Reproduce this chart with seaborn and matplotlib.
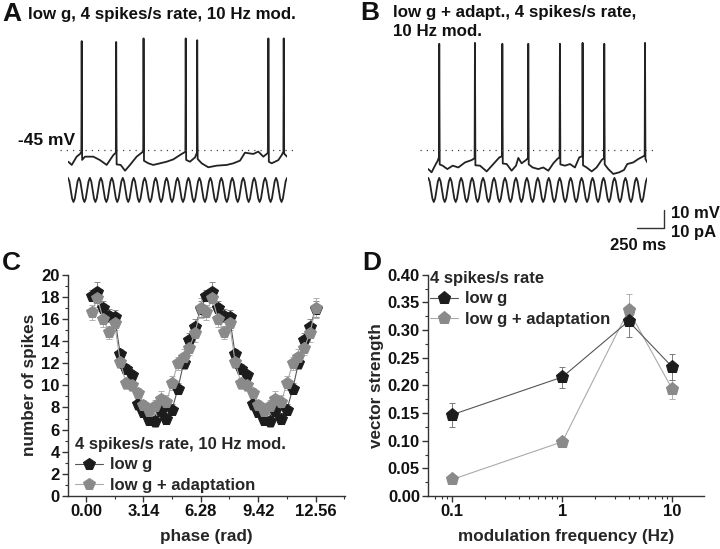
import numpy as np
import matplotlib
matplotlib.use("Agg")
import matplotlib.pyplot as plt
import seaborn as sns

sns.set_style("ticks")
plt.rcParams["font.family"] = ["Liberation Sans", "DejaVu Sans"]
plt.rcParams["font.weight"] = "bold"
plt.rcParams["axes.labelweight"] = "bold"

# --- A : membrane potential, low g (time in s, mV)
a_base_t = [0.003, 0.034, 0.079, 0.110, 0.155, 0.231, 0.292, 0.353, 0.414, 0.481,
            0.521, 0.566, 0.627, 0.673, 0.734, 0.779, 0.840, 0.901, 0.962, 1.038,
            1.114, 1.160, 1.221, 1.281, 1.358, 1.449, 1.510, 1.571, 1.616, 1.692,
            1.738, 1.784, 1.814, 1.860, 1.921, 1.952, 2.000]
a_base_v = [-51.5, -53.3, -48.7, -47.2, -48.7, -48.7, -50.6, -53.3, -47.8, -53.3,
            -56.5, -53.3, -48.7, -46.5, -52.4, -53.3, -52.4, -51.5, -50.2, -47.2,
            -51.5, -49.1, -52.4, -54.6, -53.7, -53.3, -52.4, -50.9, -46.5, -47.2,
            -45.9, -48.7, -47.2, -52.4, -50.6, -47.8, -48.7]
a_spk_t = [0.125, 0.440, 0.690, 1.075, 1.180, 1.830, 1.970]
a_spk_peak = [15.5, 15.0, 17.0, 17.0, 16.0, 17.0, 17.0]
a_spk_foot = [-46.0, -46.5, -45.8, -46.0, -46.5, -46.5, -46.0]
a_spk_dip = [-50.5, -53.0, -51.0, -50.5, -50.0, -51.5, -47.0]

# --- B : membrane potential, low g + adaptation
b_base_t = [0.000, 0.030, 0.061, 0.086, 0.131, 0.174, 0.223, 0.274, 0.335, 0.396,
            0.472, 0.533, 0.594, 0.649, 0.716, 0.761, 0.801, 0.822, 0.852, 0.892,
            0.953, 1.004, 1.050, 1.096, 1.142, 1.178, 1.248, 1.294, 1.339, 1.379,
            1.446, 1.492, 1.537, 1.583, 1.644, 1.689, 1.744, 1.787, 1.817, 1.872,
            1.918, 1.958, 2.000]
b_base_v = [-55.6, -57.4, -53.7, -50.9, -53.7, -55.6, -53.7, -54.7, -51.9, -50.6,
            -53.7, -56.9, -52.8, -49.1, -52.8, -56.5, -53.7, -49.4, -52.4, -50.6,
            -54.7, -55.6, -54.7, -56.5, -52.4, -50.0, -53.7, -52.8, -54.7, -49.1,
            -54.7, -56.9, -54.7, -50.6, -55.6, -58.3, -57.4, -56.1, -52.8, -51.9,
            -50.0, -48.7, -51.9]
b_spk_t = [0.100, 0.426, 0.676, 0.913, 1.202, 1.409, 1.607, 1.979]
b_spk_peak = [14.0, 14.5, 14.0, 14.0, 14.0, 14.5, 14.0, 14.5]
b_spk_foot = [-49.0, -49.5, -48.5, -49.5, -49.0, -48.5, -49.5, -48.0]
b_spk_dip = [-53.0, -53.5, -52.5, -53.0, -53.0, -53.5, -53.0, -50.0]

# --- stimulus : 10 Hz sinusoidal current, one cycle sampled (starts at peak)
stim_cycle = [1.0, 0.71, 0.0, -0.71, -1.0, -0.71, 0.0, 0.71]
stim_cycles = 20
stim_amp = 6.7      # pA
stim_offset = -67.2

# --- C : phase histogram (one period, repeated twice)
phase = [0.31, 0.63, 0.94, 1.26, 1.57, 1.88, 2.20, 2.51, 2.83, 3.14,
         3.46, 3.77, 4.08, 4.40, 4.71, 5.03, 5.34, 5.65, 5.97, 6.28]
spk_low_g = [18.1, 18.4, 17.0, 16.3, 16.2, 12.8, 11.5, 10.9, 8.3, 7.6,
             6.9, 6.8, 7.7, 7.0, 7.8, 9.7, 12.0, 14.1, 15.3, 16.9]
spk_low_g_err = [0.5, 0.9, 0.6, 0.6, 0.6, 0.5, 0.4, 0.4, 0.5, 0.5,
                 0.5, 0.6, 0.5, 0.5, 0.5, 0.5, 0.5, 0.6, 0.7, 0.7]
spk_adapt = [16.6, 17.9, 16.0, 14.8, 15.6, 12.1, 10.2, 10.0, 9.3, 8.2,
             7.7, 8.1, 8.8, 8.5, 10.2, 12.0, 12.6, 13.4, 14.7, 17.0]
spk_adapt_err = [0.7, 0.8, 0.7, 0.6, 0.6, 0.5, 0.5, 0.5, 0.5, 0.5,
                 0.5, 0.6, 0.7, 0.6, 0.6, 0.6, 0.7, 0.7, 0.8, 0.9]

# --- D : vector strength vs modulation frequency
freq = [0.1, 1, 4, 10]
vs_low_g = [0.147, 0.215, 0.316, 0.233]
vs_low_g_err = [0.022, 0.019, 0.028, 0.023]
vs_adapt = [0.030, 0.098, 0.336, 0.193]
vs_adapt_err = [0.004, 0.004, 0.029, 0.017]

DARK = "#1c1c1c"
GREY = "#8a8a8a"
TXT = "#111111"


def build_trace(bt, bv, st, sp, sf, sd):
    t = list(bt)
    v = list(bv)
    for ti, pk, ft, dp in zip(st, sp, sf, sd):
        t += [ti - 0.003, ti, ti + 0.004]
        v += [ft, pk, dp]
    order = np.argsort(t)
    return np.array(t)[order], np.array(v)[order]


fig = plt.figure(figsize=(7.2, 5.49), dpi=100)
W, H = 720, 549
axA = fig.add_axes([68 / W, (H - 205.8) / H, 219 / W, 172.8 / H])
axB = fig.add_axes([428.3 / W, (H - 205.8) / H, 219 / W, 172.8 / H])
axC = fig.add_axes([68 / W, 53 / H, 277 / W, 221.3 / H])
axD = fig.add_axes([428.3 / W, 53 / H, 275.7 / W, 221.3 / H])

stim_y = stim_offset + stim_amp * np.array(stim_cycle * stim_cycles + [stim_cycle[0]])
stim_t = np.arange(len(stim_y)) * 0.1 / len(stim_cycle)

traces = [(axA, build_trace(a_base_t, a_base_v, a_spk_t, a_spk_peak, a_spk_foot, a_spk_dip)),
          (axB, build_trace(b_base_t, b_base_v, b_spk_t, b_spk_peak, b_spk_foot, b_spk_dip))]
for ax, (tt, vv) in traces:
    sns.lineplot(x=tt, y=vv, ax=ax, sort=False, estimator=None, color="#222222", lw=1.3)
    sns.lineplot(x=stim_t, y=stim_y, ax=ax, sort=False, estimator=None, color="#222222", lw=1.3)
    ax.hlines(-45, -0.073, 2.07, colors="#444444", linestyles=(0, (1, 4)), lw=0.9, clip_on=False)
    ax.set_xlim(0, 2)
    ax.set_ylim(-76, 20)
    ax.axis("off")

axA.text(0.064, -39.5, "-45 mV", ha="right", va="center", fontsize=12.5, color=TXT)

# scale bar (250 ms / 10 mV / 10 pA)
sb_t, sb_v = 2.152, -88.5
axB.plot([sb_t - 0.25, sb_t, sb_t], [sb_v, sb_v, sb_v + 10], color="#333333", lw=1.0, clip_on=False)
axB.text(sb_t + 0.06, sb_v + 8.5, "10 mV", ha="left", va="center", fontsize=12, color=TXT)
axB.text(sb_t + 0.06, sb_v - 2.5, "10 pA", ha="left", va="center", fontsize=12, color=TXT)
axB.text(sb_t - 0.24, sb_v - 9.7, "250 ms", ha="center", va="center", fontsize=12, color=TXT)

# --- C
x_two = np.array(phase + [p + 6.283 for p in phase])
sns.lineplot(x=x_two, y=spk_low_g * 2, ax=axC, sort=False, estimator=None, color="#555555",
             lw=0.8, marker="p", markersize=8.5, markerfacecolor=DARK, markeredgecolor=DARK,
             label="low g", zorder=3)
axC.errorbar(x_two, spk_low_g * 2, yerr=spk_low_g_err * 2, fmt="none", ecolor="#8c8c8c",
             elinewidth=0.7, capsize=2, capthick=0.7, zorder=2)
sns.lineplot(x=x_two, y=spk_adapt * 2, ax=axC, sort=False, estimator=None, color="#aaaaaa",
             lw=0.8, marker="p", markersize=8.5, markerfacecolor=GREY, markeredgecolor=GREY,
             label="low g + adaptation", zorder=4)
axC.errorbar(x_two, spk_adapt * 2, yerr=spk_adapt_err * 2, fmt="none", ecolor="#b0b0b0",
             elinewidth=0.7, capsize=2, capthick=0.7, zorder=2)
axC.set_xlim(-0.98, 14.17)
axC.set_ylim(0, 20)
axC.set_xticks([0, 3.14, 6.28, 9.42, 12.56])
axC.set_xticklabels(["0.00", "3.14", "6.28", "9.42", "12.56"])
axC.set_xticks([1.57, 4.71, 7.85, 10.99, 14.13], minor=True)
axC.set_yticks(range(0, 21, 2))
axC.set_yticks(range(1, 20, 2), minor=True)
axC.set_xlabel("phase (rad)", fontsize=12.3, labelpad=7)
axC.set_ylabel("number of spikes", fontsize=12.3, labelpad=3)
axC.legend(title="4 spikes/s rate, 10 Hz mod.", loc="lower left", bbox_to_anchor=(0.025, 0.015),
           frameon=False, fontsize=12, title_fontproperties={"weight": "bold", "size": 12},
           handlelength=1.7, handletextpad=0.4, borderaxespad=0, borderpad=0,
           labelspacing=0.32, alignment="left")

# --- D
sns.lineplot(x=freq, y=vs_adapt, ax=axD, sort=False, estimator=None, color="#aaaaaa",
             lw=0.8, marker="p", markersize=9.5, markerfacecolor=GREY, markeredgecolor=GREY,
             label="low g + adaptation", zorder=3)
axD.errorbar(freq, vs_adapt, yerr=vs_adapt_err, fmt="none", ecolor="#b0b0b0",
             elinewidth=0.7, capsize=2.5, capthick=0.7, zorder=2)
sns.lineplot(x=freq, y=vs_low_g, ax=axD, sort=False, estimator=None, color="#555555",
             lw=0.8, marker="p", markersize=9.5, markerfacecolor=DARK, markeredgecolor=DARK,
             label="low g", zorder=4)
axD.errorbar(freq, vs_low_g, yerr=vs_low_g_err, fmt="none", ecolor="#7a7a7a",
             elinewidth=0.7, capsize=2.5, capthick=0.7, zorder=2)
axD.set_xscale("log")
axD.set_xlim(0.0605, 19.4)
axD.set_ylim(0, 0.4)
axD.set_xticks([0.1, 1, 10])
axD.set_xticklabels(["0.1", "1", "10"])
axD.set_yticks(np.arange(0, 0.41, 0.05))
axD.set_yticklabels([f"{v:.2f}" for v in np.arange(0, 0.41, 0.05)])
axD.set_yticks(np.arange(0.025, 0.4, 0.05), minor=True)
axD.set_xlabel("modulation frequency (Hz)", fontsize=12.3, labelpad=7)
axD.set_ylabel("vector strength", fontsize=12.3, labelpad=3)
h, l = axD.get_legend_handles_labels()
axD.legend(h[::-1], l[::-1], title="4 spikes/s rate", loc="upper left", bbox_to_anchor=(0.005, 1.016),
           frameon=False, fontsize=12, title_fontproperties={"weight": "bold", "size": 12},
           handlelength=1.7, handletextpad=0.4, borderaxespad=0, borderpad=0,
           labelspacing=0.32, alignment="left")

for ax in (axC, axD):
    sns.despine(ax=ax)
    for s in ("left", "bottom"):
        ax.spines[s].set_linewidth(1.0)
        ax.spines[s].set_color("#333333")
    ax.tick_params(which="major", direction="out", length=4, width=1.0, pad=2,
                   labelsize=12, colors="#333333", labelcolor=TXT)
    ax.tick_params(which="minor", direction="out", length=2.5, width=0.8, colors="#333333")
    for lab in ax.get_xticklabels() + ax.get_yticklabels():
        lab.set_fontweight("bold")

# panel letters and titles
fig.text(2 / W, 1 - 14 / H, "A", fontsize=19, fontweight="heavy", va="center", color=TXT)
fig.text(28 / W, 1 - 15 / H, "low g, 4 spikes/s rate, 10 Hz mod.", fontsize=12.2, va="center", color=TXT)
fig.text(360 / W, 1 - 13 / H, "B", fontsize=19, fontweight="heavy", va="center", color=TXT)
fig.text(392.7 / W, 1 - 12.5 / H, "low g + adapt., 4 spikes/s rate,", fontsize=12.2, va="center", color=TXT)
fig.text(392.7 / W, 1 - 32 / H, "10 Hz mod.", fontsize=12.2, va="center", color=TXT)
fig.text(2 / W, 1 - 263 / H, "C", fontsize=19, fontweight="heavy", va="center", color=TXT)
fig.text(362 / W, 1 - 263 / H, "D", fontsize=19, fontweight="heavy", va="center", color=TXT)

fig.savefig("out.png", dpi=100)
